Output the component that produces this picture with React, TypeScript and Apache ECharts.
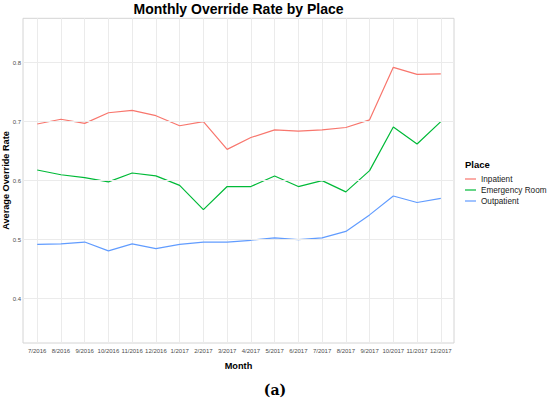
import React, { useEffect, useRef } from "react";
import * as echarts from "echarts";

const months = ["7/2016", "8/2016", "9/2016", "10/2016", "11/2016", "12/2016", "1/2017", "2/2017", "3/2017", "4/2017", "5/2017", "6/2017", "7/2017", "8/2017", "9/2017", "10/2017", "11/2017", "12/2017"];
const inpatient = [0.696, 0.704, 0.697, 0.715, 0.719, 0.710, 0.693, 0.700, 0.653, 0.673, 0.686, 0.684, 0.686, 0.690, 0.703, 0.792, 0.780, 0.781];
const emergency = [0.618, 0.610, 0.605, 0.598, 0.613, 0.608, 0.592, 0.551, 0.590, 0.590, 0.608, 0.590, 0.600, 0.581, 0.617, 0.691, 0.662, 0.700];
const outpatient = [0.492, 0.493, 0.496, 0.481, 0.493, 0.485, 0.492, 0.496, 0.496, 0.499, 0.503, 0.500, 0.503, 0.514, 0.542, 0.574, 0.563, 0.570];
const yTicks = [0.4, 0.5, 0.6, 0.7, 0.8];
const seriesNames = ["Inpatient", "Emergency Room", "Outpatient"];
const colors = ["#F8766D", "#00BA38", "#619CFF"];

const SANS = "'Liberation Sans', Arial, sans-serif";
const Y_MIN = 0.325;
const Y_MAX = 0.875;

export default function App() {
  const ref = useRef<HTMLDivElement>(null);
  useEffect(() => {
    if (!ref.current) return;
    const chart = echarts.init(ref.current, null, { renderer: "svg" });
    const values = [inpatient, emergency, outpatient];
    const legendItems: any[] = [];
    seriesNames.forEach((name, i) => {
      const cy = 179 + i * 11;
      legendItems.push({ type: "line", shape: { x1: 465, y1: cy, x2: 476, y2: cy }, style: { stroke: colors[i], lineWidth: 1.2 } });
      legendItems.push({ type: "text", x: 481, y: cy, style: { text: name, font: `8.2px ${SANS}`, fill: "#1a1a1a", textAlign: "left", textVerticalAlign: "middle" } });
    });
    const option: any = {
      animation: false,
      textStyle: { fontFamily: SANS },
      grid: [
        { left: 37.2, right: 109.2, top: 18.3, bottom: 56, show: false },
        { left: 23, right: 96, top: 18.3, bottom: 56, show: true, borderColor: "#d4d4d4", borderWidth: 1, backgroundColor: "transparent" },
      ],
      xAxis: [
        {
          type: "category",
          gridIndex: 0,
          data: months,
          boundaryGap: false,
          axisLine: { show: false },
          axisTick: { show: false, interval: 0 },
          axisLabel: { interval: 0, fontSize: 6, color: "#4d4d4d", margin: 5, hideOverlap: false, fontFamily: SANS },
          splitLine: { show: true, interval: 0, lineStyle: { color: "#ebebeb", width: 1 } },
        },
        { type: "value", gridIndex: 1, min: 0, max: 1, show: false },
      ],
      yAxis: [
        { type: "value", gridIndex: 0, min: Y_MIN, max: Y_MAX, show: false },
        {
          type: "value",
          gridIndex: 1,
          min: Y_MIN,
          max: Y_MAX,
          axisLine: { show: false },
          axisTick: { show: false, customValues: yTicks },
          splitLine: { show: false },
          axisLabel: { customValues: yTicks, fontSize: 6, color: "#4d4d4d", margin: 2, formatter: (v: number) => v.toFixed(1), fontFamily: SANS },
        },
      ],
      series: [
        {
          type: "line",
          xAxisIndex: 1,
          yAxisIndex: 1,
          data: [],
          z: 1,
          silent: true,
          markLine: {
            silent: true,
            symbol: "none",
            label: { show: false },
            lineStyle: { color: "#ebebeb", width: 1, type: "solid" },
            data: yTicks.map((t) => ({ yAxis: t })),
          },
        },
        ...seriesNames.map((name, i) => ({
          name,
          type: "line",
          xAxisIndex: 0,
          yAxisIndex: 0,
          data: values[i],
          symbol: "none",
          z: 3,
          itemStyle: { color: colors[i] },
          lineStyle: { color: colors[i], width: 1.2 },
        })),
      ],
      graphic: [
        { type: "text", x: 238.5, y: 9, style: { text: "Monthly Override Rate by Place", font: `bold 14px ${SANS}`, fill: "#000", textAlign: "center", textVerticalAlign: "middle" } },
        { type: "text", x: 6, y: 180.5, rotation: Math.PI / 2, style: { text: "Average Override Rate", font: `bold 9.2px ${SANS}`, fill: "#000", textAlign: "center", textVerticalAlign: "middle" } },
        { type: "text", x: 238.5, y: 366, style: { text: "Month", font: `bold 9.2px ${SANS}`, fill: "#000", textAlign: "center", textVerticalAlign: "middle" } },
        { type: "text", x: 465, y: 164, style: { text: "Place", font: `bold 9.5px ${SANS}`, fill: "#000", textAlign: "left", textVerticalAlign: "middle" } },
        ...legendItems,
        { type: "text", x: 275, y: 390, style: { text: "(a)", font: `bold 14px 'DejaVu Serif', serif`, fill: "#000", textAlign: "center", textVerticalAlign: "middle" } },
      ],
    };
    chart.setOption(option);
    return () => chart.dispose();
  }, []);
  return <div ref={ref} style={{ position: "absolute", left: 0, top: 0, width: 550, height: 399, background: "#fff" }} />;
}
